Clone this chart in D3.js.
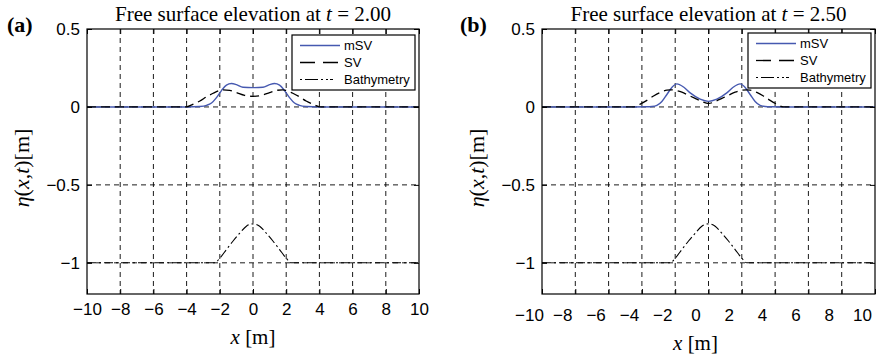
<!DOCTYPE html>
<html>
<head>
<meta charset="utf-8">
<script src="https://cdn.jsdelivr.net/npm/d3@7/dist/d3.min.js"></script>
<style>
  body { margin: 0; background: #fff; }
  svg { display: block; }
  .tick text { font-family: "Liberation Sans", Arial, sans-serif; font-size: 17px; fill: #000; }
</style>
</head>
<body>
<svg id="chart" width="877" height="359"></svg>
<script>
// axis ticks
const xTicks = [-10, -8, -6, -4, -2, 0, 2, 4, 6, 8, 10];
const yTicks = [0.5, 0, -0.5, -1];

// bathymetry (same in both panels)
const bathX = [-10, -2.3, -2.0, -1.6, -1.2, -0.8, -0.4, 0, 0.4, 0.8, 1.2, 1.6, 2.0, 2.3, 10];
const bathY = [-1, -1, -0.97, -0.915, -0.86, -0.81, -0.765, -0.75, -0.765, -0.81, -0.86, -0.915, -0.97, -1, -1];

// panel (a): t = 2.00
const mSvXa = [-10, -4, -3.2, -2.8, -2.5, -2.2, -1.9, -1.6, -1.3, -1.0, -0.6, 0, 0.6, 1.0, 1.3, 1.6, 1.9, 2.2, 2.5, 2.8, 3.2, 4, 10];
const mSvYa = [0, 0, 0.003, 0.01, 0.025, 0.06, 0.105, 0.14, 0.15, 0.143, 0.126, 0.124, 0.126, 0.143, 0.15, 0.14, 0.105, 0.06, 0.025, 0.01, 0.003, 0, 0];
const svXa = [-10, -4.05, -3.6, -3.2, -2.8, -2.4, -2.0, -1.8, -1.4, -1.0, -0.5, 0, 0.5, 1.0, 1.4, 1.8, 2.0, 2.4, 2.8, 3.2, 3.6, 4.05, 10];
const svYa = [0, 0, 0.018, 0.038, 0.065, 0.088, 0.106, 0.11, 0.106, 0.092, 0.074, 0.068, 0.074, 0.092, 0.106, 0.11, 0.106, 0.088, 0.065, 0.038, 0.018, 0, 0];

// panel (b): t = 2.50
const mSvXb = [-10, -4.5, -3.8, -3.4, -3.1, -2.8, -2.5, -2.2, -1.9, -1.5, -1.1, -0.5, 0, 0.5, 1.1, 1.5, 1.9, 2.2, 2.5, 2.8, 3.1, 3.4, 3.8, 4.5, 10];
const mSvYb = [0, 0, 0.001, 0.003, 0.01, 0.035, 0.08, 0.125, 0.148, 0.128, 0.09, 0.05, 0.036, 0.05, 0.09, 0.128, 0.148, 0.125, 0.08, 0.035, 0.01, 0.003, 0.001, 0, 0];
const svXb = [-10, -4.5, -4.1, -3.7, -3.3, -2.9, -2.5, -2.3, -2.0, -1.6, -1.2, -0.8, -0.4, 0, 0.4, 0.8, 1.2, 1.6, 2.0, 2.3, 2.5, 2.9, 3.3, 3.7, 4.1, 4.5, 10];
const svYb = [0, 0, 0.018, 0.042, 0.07, 0.093, 0.108, 0.11, 0.107, 0.095, 0.075, 0.055, 0.035, 0.022, 0.035, 0.055, 0.075, 0.095, 0.107, 0.11, 0.108, 0.093, 0.07, 0.042, 0.018, 0, 0];

const legendLabels = ["mSV", "SV", "Bathymetry"];
const blue = "#4659b0";

const svg = d3.select("#chart");

const panels = [
  { tag: "(a)", t: "2.00", mX: mSvXa, mY: mSvYa, sX: svXa, sY: svYa,
    left: 87, right: 419, top: 29, bottom: 294, tagX: 7, labDx: 0, labDy: 0,
    leg: { x: 292, y: 35, w: 123, h: 55 } },
  { tag: "(b)", t: "2.50", mX: mSvXb, mY: mSvYb, sX: svXb, sY: svYb,
    left: 542, right: 875, top: 29, bottom: 294, tagX: 460, labDx: -13, labDy: 6,
    leg: { x: 748, y: 33, w: 123, h: 55 } }
];

const zip = (xs, ys) => xs.map((x, i) => [x, ys[i]]);

panels.forEach(p => {
  const w = p.right - p.left, h = p.bottom - p.top;
  const x = d3.scaleLinear().domain([-10, 10]).range([0, w]);
  const y = d3.scaleLinear().domain([-1.2, 0.5]).range([h, 0]);
  const g = svg.append("g").attr("transform", `translate(${p.left},${p.top})`);

  // grid
  const grid = g.append("g").attr("class", "grid");
  grid.selectAll("line.v").data(xTicks.slice(1, -1)).enter().append("line")
    .attr("x1", d => x(d)).attr("x2", d => x(d)).attr("y1", 0).attr("y2", h);
  grid.selectAll("line.h").data(yTicks.slice(1)).enter().append("line")
    .attr("x1", 0).attr("x2", w).attr("y1", d => y(d)).attr("y2", d => y(d));
  grid.selectAll("line").attr("stroke", "#000").attr("stroke-width", 0.9)
    .attr("stroke-dasharray", "5,4");

  // curves
  const line = d3.line().x(d => x(d[0])).y(d => y(d[1])).curve(d3.curveMonotoneX);
  g.append("path").datum(zip(p.mX, p.mY)).attr("d", line)
    .attr("fill", "none").attr("stroke", blue).attr("stroke-width", 1.4);
  g.append("path").datum(zip(p.sX, p.sY)).attr("d", line)
    .attr("fill", "none").attr("stroke", "#000").attr("stroke-width", 1.3)
    .attr("stroke-dasharray", "9,5");
  g.append("path").datum(zip(bathX, bathY)).attr("d", line)
    .attr("fill", "none").attr("stroke", "#000").attr("stroke-width", 1.1)
    .attr("stroke-dasharray", "9,3,2,3");

  // axes with inward ticks
  const xAx = g.append("g").attr("transform", `translate(0,${h})`)
    .call(d3.axisBottom(x).tickValues(xTicks).tickSize(-5).tickSizeOuter(0)
      .tickPadding(9 + p.labDy).tickFormat(d => d3.format("")(d).replace("-", "\u2212")));
  xAx.selectAll("text").attr("dx", p.labDx);
  g.append("g").call(d3.axisTop(x).tickValues(xTicks).tickSize(-5).tickSizeOuter(0).tickFormat(""));
  g.append("g")
    .call(d3.axisLeft(y).tickValues(yTicks).tickSize(-5).tickSizeOuter(0)
      .tickPadding(7).tickFormat(d => String(d).replace("-", "\u2212")));
  g.append("g").attr("transform", `translate(${w},0)`)
    .call(d3.axisRight(y).tickValues(yTicks).tickSize(-5).tickSizeOuter(0).tickFormat(""));
  g.selectAll(".domain").remove();
  g.selectAll(".tick line").attr("stroke", "#000");

  g.append("rect").attr("width", w).attr("height", h)
    .attr("fill", "none").attr("stroke", "#000").attr("stroke-width", 1.2);

  // legend
  const lg = svg.append("g").attr("transform", `translate(${p.leg.x},${p.leg.y})`);
  lg.append("rect").attr("width", p.leg.w).attr("height", p.leg.h)
    .attr("fill", "#fff").attr("stroke", "#000").attr("stroke-width", 1.2);
  const styles = [
    { stroke: blue, dash: null, sw: 1.4 },
    { stroke: "#000", dash: "15,8", sw: 1.3 },
    { stroke: "#000", dash: "2,3,13,3,2,3,2", sw: 1.1 }
  ];
  legendLabels.forEach((lab, i) => {
    const ry = 10.5 + i * 17;
    lg.append("line").attr("x1", 8).attr("x2", 48).attr("y1", ry).attr("y2", ry)
      .attr("stroke", styles[i].stroke).attr("stroke-width", styles[i].sw)
      .attr("stroke-dasharray", styles[i].dash);
    lg.append("text").attr("x", 52).attr("y", ry).attr("dy", "0.36em")
      .attr("font-family", "Liberation Sans, Arial, sans-serif").attr("font-size", 13)
      .text(lab);
  });

  // title
  const title = svg.append("text").attr("x", p.left + w / 2).attr("y", 21)
    .attr("text-anchor", "middle").attr("font-family", "Liberation Serif, Times New Roman, serif")
    .attr("font-size", 21);
  title.append("tspan").text("Free surface elevation at ");
  title.append("tspan").attr("font-style", "italic").text("t");
  title.append("tspan").text(" = " + p.t);

  // panel tag
  svg.append("text").attr("x", p.tagX).attr("y", 32)
    .attr("font-family", "Liberation Serif, Times New Roman, serif")
    .attr("font-size", 22).attr("font-weight", "bold").text(p.tag);

  // x label
  const xl = svg.append("text").attr("x", p.left + w / 2 + p.labDx).attr("y", 344 + p.labDy)
    .attr("text-anchor", "middle").attr("font-family", "Liberation Serif, Times New Roman, serif")
    .attr("font-size", 21);
  xl.append("tspan").attr("font-style", "italic").text("x");
  xl.append("tspan").text(" [m]");

  // y label
  const yl = svg.append("text")
    .attr("transform", `translate(${p.left - 58},${p.top + 139}) rotate(-90)`)
    .attr("text-anchor", "middle").attr("font-family", "Liberation Serif, Times New Roman, serif")
    .attr("font-size", 22);
  yl.append("tspan").attr("font-style", "italic").text("\u03b7");
  yl.append("tspan").text("(");
  yl.append("tspan").attr("font-style", "italic").text("x");
  yl.append("tspan").text(",");
  yl.append("tspan").attr("font-style", "italic").text("t");
  yl.append("tspan").text(")[m]");
});
</script>
</body>
</html>
